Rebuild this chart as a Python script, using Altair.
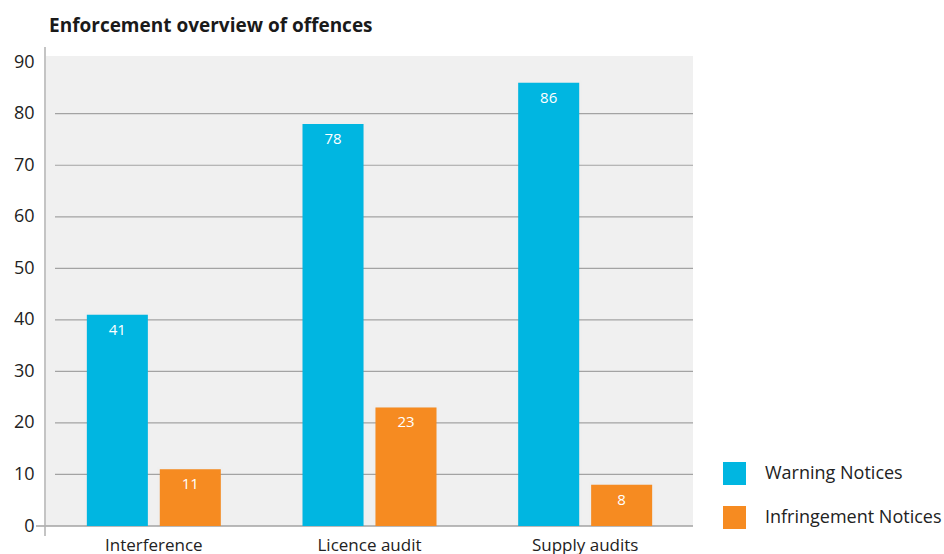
import altair as alt
import pandas as pd

categories = ["Interference", "Licence audit", "Supply audits"]
series = ["Warning Notices", "Infringement Notices"]
warning = [41, 78, 86]
infringement = [11, 23, 8]
y_ticks = [0, 10, 20, 30, 40, 50, 60, 70, 80, 90]
grid_vals = [10, 20, 30, 40, 50, 60, 70, 80]

rows = []
for c, w, i in zip(categories, warning, infringement):
    rows.append({"category": c, "series": series[0], "value": w})
    rows.append({"category": c, "series": series[1], "value": i})
df = pd.DataFrame(rows)
grid_df = pd.DataFrame({"v": grid_vals})

W, H = 647, 470
FONT = "Open Sans"
ymax = 91.2

x_enc = alt.X("category:N", sort=categories, title=None,
              scale=alt.Scale(paddingInner=0, paddingOuter=0),
              axis=alt.Axis(labelAngle=0, domain=False, ticks=False, labelPadding=11,
                            labelFontSize=17, labelColor="#222222", labelFont=FONT))
xo_enc = alt.XOffset("series:N", sort=series,
                     scale=alt.Scale(paddingInner=0.164, paddingOuter=0.56))
y_enc = alt.Y("value:Q", title=None,
              scale=alt.Scale(domain=[0, ymax], nice=False, zero=True),
              axis=alt.Axis(values=y_ticks, grid=False, domain=False, ticks=False,
                            labelPadding=12, labelFontSize=18, labelColor="#222222",
                            labelFont=FONT))

grid = alt.Chart(grid_df).mark_rule(color="#a3a3a3", strokeWidth=1.2).encode(
    y=alt.Y("v:Q", scale=alt.Scale(domain=[0, ymax], nice=False)),
    x=alt.value(9), x2=alt.value(W)
)
baseline = alt.Chart(pd.DataFrame({"v": [0]})).mark_rule(color="#a3a3a3", strokeWidth=1.5).encode(
    y=alt.Y("v:Q", scale=alt.Scale(domain=[0, ymax], nice=False)),
    x=alt.value(-10), x2=alt.value(W)
)
vline = alt.Chart(pd.DataFrame({"v": [0]})).mark_rule(color="#b0b0b0", strokeWidth=1.5).encode(
    x=alt.value(-1), y=alt.value(-9), y2=alt.value(H + 10)
)

shadow = alt.Chart(df).mark_bar(color="#000000", opacity=0.05, stroke="#000000",
                                strokeWidth=4, strokeOpacity=0.05, xOffset=1).encode(
    x=x_enc, xOffset=xo_enc, y=y_enc
)

bars = alt.Chart(df).mark_bar().encode(
    x=x_enc, xOffset=xo_enc, y=y_enc,
    color=alt.Color("series:N", sort=series,
                    scale=alt.Scale(domain=series, range=["#00b6e1", "#f68b21"]),
                    legend=alt.Legend(title=None, orient="none", legendX=677, legendY=406,
                                      symbolType="square", symbolSize=529, symbolStrokeWidth=0,
                                      symbolOpacity=1, rowPadding=21, labelOffset=19,
                                      labelFontSize=18, labelColor="#222222", labelFont=FONT,
                                      labelLimit=400, padding=0))
)

labels = alt.Chart(df).mark_text(color="white", fontSize=15, dy=15, font=FONT,
                                 baseline="middle").encode(
    x=x_enc, xOffset=xo_enc, y=y_enc, text=alt.Text("value:Q")
)

chart = alt.layer(grid, baseline, vline, shadow, bars, labels).properties(
    width=W, height=H,
    title=alt.TitleParams("Enforcement overview of offences", anchor="start", frame="group",
                          font=FONT, fontSize=19, fontWeight="bold", color="#1a1a1a",
                          dx=3, offset=10),
    autosize=alt.AutoSizeParams(type="none"),
    padding={"left": 46, "top": 56, "right": 251, "bottom": 28}
).configure_view(fill="#f0f0f0", stroke=None)

chart.save("out.html", embed_options={"renderer": "svg", "actions": False})
